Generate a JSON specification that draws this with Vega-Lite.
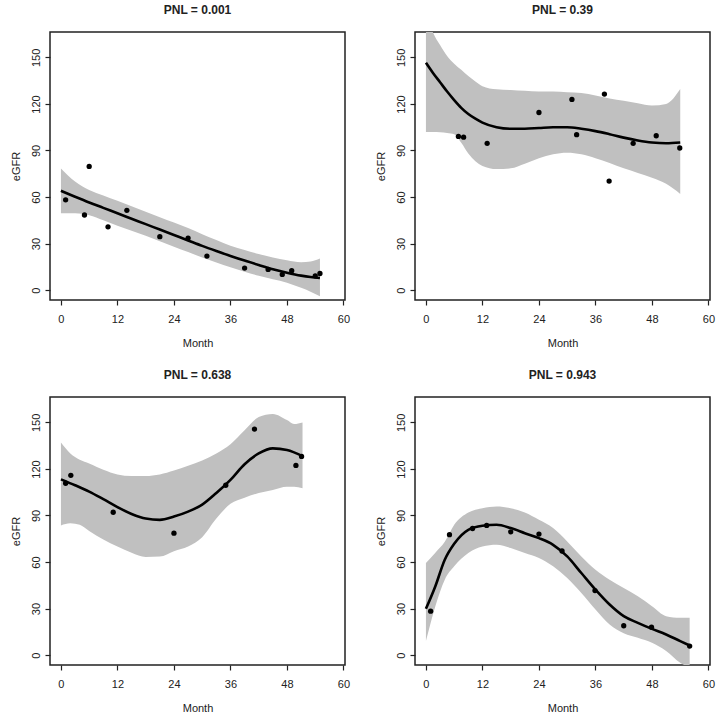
{
  "$schema": "https://vega.github.io/schema/vega-lite/v6.json",
  "padding": {"left": 9, "top": 3, "right": 2, "bottom": 2},
  "background": "white",
  "columns": 2,
  "spacing": {"row": 97, "column": 70},
  "bounds": "flush",
  "datasets": {
    "points": [
      {"panel": "A", "month": 1, "egfr": 58.2},
      {"panel": "A", "month": 5, "egfr": 48.4},
      {"panel": "A", "month": 6, "egfr": 79.7},
      {"panel": "A", "month": 10, "egfr": 40.8},
      {"panel": "A", "month": 14, "egfr": 51.4},
      {"panel": "A", "month": 21, "egfr": 34.4},
      {"panel": "A", "month": 27, "egfr": 33.5},
      {"panel": "A", "month": 31, "egfr": 21.9},
      {"panel": "A", "month": 39, "egfr": 14.2},
      {"panel": "A", "month": 44, "egfr": 13.3},
      {"panel": "A", "month": 47, "egfr": 10.1},
      {"panel": "A", "month": 49, "egfr": 12.5},
      {"panel": "A", "month": 54, "egfr": 9.2},
      {"panel": "A", "month": 55, "egfr": 10.7},
      {"panel": "B", "month": 6.9, "egfr": 99.1},
      {"panel": "B", "month": 8, "egfr": 98.6},
      {"panel": "B", "month": 13, "egfr": 94.6},
      {"panel": "B", "month": 24, "egfr": 114.5},
      {"panel": "B", "month": 31, "egfr": 122.9},
      {"panel": "B", "month": 32, "egfr": 100.2},
      {"panel": "B", "month": 37.9, "egfr": 126.4},
      {"panel": "B", "month": 38.9, "egfr": 70.3},
      {"panel": "B", "month": 44, "egfr": 94.6},
      {"panel": "B", "month": 48.9, "egfr": 99.5},
      {"panel": "B", "month": 53.9, "egfr": 91.6},
      {"panel": "C", "month": 1, "egfr": 110.8},
      {"panel": "C", "month": 2.1, "egfr": 115.9},
      {"panel": "C", "month": 11.1, "egfr": 92.1},
      {"panel": "C", "month": 24, "egfr": 78.6},
      {"panel": "C", "month": 35, "egfr": 109.5},
      {"panel": "C", "month": 41.1, "egfr": 145.7},
      {"panel": "C", "month": 49.9, "egfr": 122.3},
      {"panel": "C", "month": 51.1, "egfr": 128.1},
      {"panel": "D", "month": 1, "egfr": 28.3},
      {"panel": "D", "month": 5, "egfr": 77.6},
      {"panel": "D", "month": 9.9, "egfr": 81.6},
      {"panel": "D", "month": 12.9, "egfr": 83.6},
      {"panel": "D", "month": 18, "egfr": 79.5},
      {"panel": "D", "month": 24, "egfr": 78},
      {"panel": "D", "month": 28.9, "egfr": 67.1},
      {"panel": "D", "month": 35.9, "egfr": 41.6},
      {"panel": "D", "month": 42, "egfr": 18.9},
      {"panel": "D", "month": 47.9, "egfr": 18},
      {"panel": "D", "month": 56, "egfr": 5.8}
    ],
    "fit": [
      {"panel": "A", "month": 0, "fit": 64},
      {"panel": "A", "month": 3, "fit": 60.2},
      {"panel": "A", "month": 6, "fit": 56.5},
      {"panel": "A", "month": 9, "fit": 53},
      {"panel": "A", "month": 12, "fit": 49.5},
      {"panel": "A", "month": 15, "fit": 46},
      {"panel": "A", "month": 18, "fit": 42.5},
      {"panel": "A", "month": 21, "fit": 39},
      {"panel": "A", "month": 24, "fit": 35.5},
      {"panel": "A", "month": 27, "fit": 32},
      {"panel": "A", "month": 30, "fit": 28.5},
      {"panel": "A", "month": 33, "fit": 25.2},
      {"panel": "A", "month": 36, "fit": 22},
      {"panel": "A", "month": 39, "fit": 19},
      {"panel": "A", "month": 42, "fit": 16.2},
      {"panel": "A", "month": 45, "fit": 13.5},
      {"panel": "A", "month": 48, "fit": 11.2},
      {"panel": "A", "month": 51, "fit": 9.3},
      {"panel": "A", "month": 53, "fit": 8.4},
      {"panel": "A", "month": 55, "fit": 7.8},
      {"panel": "B", "month": 0, "fit": 146.6},
      {"panel": "B", "month": 1.5, "fit": 140},
      {"panel": "B", "month": 3, "fit": 134},
      {"panel": "B", "month": 4.5, "fit": 128},
      {"panel": "B", "month": 6, "fit": 122.5},
      {"panel": "B", "month": 7.5, "fit": 117.5},
      {"panel": "B", "month": 9, "fit": 113.5},
      {"panel": "B", "month": 10.5, "fit": 110.5},
      {"panel": "B", "month": 12, "fit": 108},
      {"panel": "B", "month": 15, "fit": 105},
      {"panel": "B", "month": 18, "fit": 104},
      {"panel": "B", "month": 21, "fit": 104},
      {"panel": "B", "month": 24, "fit": 104.5},
      {"panel": "B", "month": 27, "fit": 105},
      {"panel": "B", "month": 30, "fit": 105},
      {"panel": "B", "month": 33, "fit": 104},
      {"panel": "B", "month": 36, "fit": 102.5},
      {"panel": "B", "month": 39, "fit": 100.5},
      {"panel": "B", "month": 42, "fit": 98.3},
      {"panel": "B", "month": 45, "fit": 96.5},
      {"panel": "B", "month": 48, "fit": 95.2},
      {"panel": "B", "month": 51, "fit": 94.7},
      {"panel": "B", "month": 54, "fit": 95.2},
      {"panel": "C", "month": 0, "fit": 113.3},
      {"panel": "C", "month": 3, "fit": 109.5},
      {"panel": "C", "month": 6, "fit": 105.4},
      {"panel": "C", "month": 9, "fit": 100.5},
      {"panel": "C", "month": 12, "fit": 95.4},
      {"panel": "C", "month": 15, "fit": 91},
      {"panel": "C", "month": 18, "fit": 88},
      {"panel": "C", "month": 21, "fit": 87.2},
      {"panel": "C", "month": 24, "fit": 89.3},
      {"panel": "C", "month": 27, "fit": 92.5},
      {"panel": "C", "month": 30, "fit": 97},
      {"panel": "C", "month": 33, "fit": 104.5},
      {"panel": "C", "month": 36, "fit": 113},
      {"panel": "C", "month": 39, "fit": 123},
      {"panel": "C", "month": 42, "fit": 130},
      {"panel": "C", "month": 45, "fit": 133.3},
      {"panel": "C", "month": 48, "fit": 132.2},
      {"panel": "C", "month": 51.3, "fit": 128.3},
      {"panel": "D", "month": 0, "fit": 29.8},
      {"panel": "D", "month": 2, "fit": 44.4},
      {"panel": "D", "month": 4, "fit": 61.5},
      {"panel": "D", "month": 6, "fit": 71.8},
      {"panel": "D", "month": 9, "fit": 80.8},
      {"panel": "D", "month": 12, "fit": 83.4},
      {"panel": "D", "month": 15, "fit": 84},
      {"panel": "D", "month": 18, "fit": 81.9},
      {"panel": "D", "month": 21, "fit": 78.6},
      {"panel": "D", "month": 24, "fit": 75.4},
      {"panel": "D", "month": 27, "fit": 71.1},
      {"panel": "D", "month": 30, "fit": 63.6},
      {"panel": "D", "month": 33, "fit": 52.9},
      {"panel": "D", "month": 36, "fit": 42.2},
      {"panel": "D", "month": 39, "fit": 32.6},
      {"panel": "D", "month": 42, "fit": 25.1},
      {"panel": "D", "month": 45, "fit": 20.8},
      {"panel": "D", "month": 48, "fit": 16.9},
      {"panel": "D", "month": 51, "fit": 13.3},
      {"panel": "D", "month": 54, "fit": 9},
      {"panel": "D", "month": 56, "fit": 6.2}
    ],
    "band": [
      {"panel": "A", "month": 0, "lo": 49.5, "hi": 78.4},
      {"panel": "A", "month": 3, "lo": 49.5, "hi": 70},
      {"panel": "A", "month": 6, "lo": 48.3, "hi": 64.5},
      {"panel": "A", "month": 9, "lo": 45, "hi": 61},
      {"panel": "A", "month": 12, "lo": 41.5, "hi": 57.6},
      {"panel": "A", "month": 15, "lo": 38.2, "hi": 54},
      {"panel": "A", "month": 18, "lo": 35, "hi": 50.5},
      {"panel": "A", "month": 21, "lo": 31.5, "hi": 47},
      {"panel": "A", "month": 24, "lo": 28, "hi": 43.6},
      {"panel": "A", "month": 27, "lo": 24.5, "hi": 40},
      {"panel": "A", "month": 30, "lo": 21, "hi": 36},
      {"panel": "A", "month": 33, "lo": 17.8, "hi": 32.3},
      {"panel": "A", "month": 36, "lo": 14.7, "hi": 28.6},
      {"panel": "A", "month": 39, "lo": 11.8, "hi": 25.8},
      {"panel": "A", "month": 42, "lo": 9.3, "hi": 23.2},
      {"panel": "A", "month": 45, "lo": 7, "hi": 21},
      {"panel": "A", "month": 48, "lo": 4.8, "hi": 19.3},
      {"panel": "A", "month": 51, "lo": 1.5, "hi": 18},
      {"panel": "A", "month": 53, "lo": -1, "hi": 18.5},
      {"panel": "A", "month": 55, "lo": -4, "hi": 20.4},
      {"panel": "B", "month": 0, "lo": 102, "hi": 180},
      {"panel": "B", "month": 1.5, "lo": 102, "hi": 166},
      {"panel": "B", "month": 3, "lo": 101.8, "hi": 158},
      {"panel": "B", "month": 4.5, "lo": 101.3, "hi": 151},
      {"panel": "B", "month": 6, "lo": 100.5, "hi": 146},
      {"panel": "B", "month": 7.5, "lo": 95, "hi": 142},
      {"panel": "B", "month": 9, "lo": 88, "hi": 138},
      {"panel": "B", "month": 10.5, "lo": 83, "hi": 134.5},
      {"panel": "B", "month": 12, "lo": 80, "hi": 131.5},
      {"panel": "B", "month": 15, "lo": 78, "hi": 129.5},
      {"panel": "B", "month": 18, "lo": 78.5, "hi": 129},
      {"panel": "B", "month": 21, "lo": 81.5, "hi": 128.5},
      {"panel": "B", "month": 24, "lo": 85, "hi": 128},
      {"panel": "B", "month": 27, "lo": 87.5, "hi": 128},
      {"panel": "B", "month": 30, "lo": 88.5, "hi": 127.5},
      {"panel": "B", "month": 33, "lo": 87.5, "hi": 127},
      {"panel": "B", "month": 36, "lo": 85, "hi": 125.5},
      {"panel": "B", "month": 39, "lo": 82, "hi": 123.5},
      {"panel": "B", "month": 42, "lo": 78.5, "hi": 122},
      {"panel": "B", "month": 45, "lo": 75.5, "hi": 120.5},
      {"panel": "B", "month": 48, "lo": 72.5, "hi": 119},
      {"panel": "B", "month": 51, "lo": 68.5, "hi": 120},
      {"panel": "B", "month": 54, "lo": 62, "hi": 129.6},
      {"panel": "C", "month": 0, "lo": 83.6, "hi": 137},
      {"panel": "C", "month": 2, "lo": 85, "hi": 130},
      {"panel": "C", "month": 4, "lo": 84, "hi": 126},
      {"panel": "C", "month": 6, "lo": 80, "hi": 123.6},
      {"panel": "C", "month": 9, "lo": 74.5, "hi": 119.5},
      {"panel": "C", "month": 12, "lo": 70, "hi": 116.5},
      {"panel": "C", "month": 15, "lo": 66, "hi": 115.5},
      {"panel": "C", "month": 18, "lo": 63.3, "hi": 115.5},
      {"panel": "C", "month": 21, "lo": 63.5, "hi": 116.5},
      {"panel": "C", "month": 24, "lo": 67, "hi": 119},
      {"panel": "C", "month": 27, "lo": 70, "hi": 122},
      {"panel": "C", "month": 30, "lo": 76, "hi": 125.5},
      {"panel": "C", "month": 33, "lo": 88, "hi": 130},
      {"panel": "C", "month": 36, "lo": 97.5, "hi": 136},
      {"panel": "C", "month": 39, "lo": 101.5, "hi": 145},
      {"panel": "C", "month": 42, "lo": 104.5, "hi": 153.5},
      {"panel": "C", "month": 45, "lo": 106.5, "hi": 155.5},
      {"panel": "C", "month": 48, "lo": 108.5, "hi": 151.5},
      {"panel": "C", "month": 49.5, "lo": 108.5, "hi": 149},
      {"panel": "C", "month": 51.3, "lo": 107.5, "hi": 150},
      {"panel": "D", "month": 0, "lo": 9, "hi": 59.4},
      {"panel": "D", "month": 2, "lo": 31.5, "hi": 66},
      {"panel": "D", "month": 4, "lo": 48.6, "hi": 73},
      {"panel": "D", "month": 6, "lo": 57.2, "hi": 84},
      {"panel": "D", "month": 9, "lo": 65.8, "hi": 91.9},
      {"panel": "D", "month": 12, "lo": 70, "hi": 94.7},
      {"panel": "D", "month": 15, "lo": 71.1, "hi": 95.8},
      {"panel": "D", "month": 18, "lo": 69, "hi": 94.7},
      {"panel": "D", "month": 21, "lo": 65.8, "hi": 91.9},
      {"panel": "D", "month": 24, "lo": 62.6, "hi": 87.2},
      {"panel": "D", "month": 27, "lo": 57.2, "hi": 81.9},
      {"panel": "D", "month": 30, "lo": 49.7, "hi": 73.3},
      {"panel": "D", "month": 33, "lo": 40.1, "hi": 63.6},
      {"panel": "D", "month": 36, "lo": 29.4, "hi": 55},
      {"panel": "D", "month": 39, "lo": 19.7, "hi": 48.6},
      {"panel": "D", "month": 42, "lo": 14, "hi": 43.3},
      {"panel": "D", "month": 45, "lo": 11.1, "hi": 37.9},
      {"panel": "D", "month": 48, "lo": 7.9, "hi": 31.5},
      {"panel": "D", "month": 51, "lo": 2.6, "hi": 25.1},
      {"panel": "D", "month": 54, "lo": -5, "hi": 24},
      {"panel": "D", "month": 56, "lo": -8, "hi": 24}
    ]
  },
  "concat": [
    {
      "title": "PNL = 0.001",
      "width": 295, "height": 268,
      "layer": [
        {"data": {"name": "band"}, "transform": [{"filter": "datum.panel === 'A'"}],
         "mark": {"type": "area", "color": "#c0c0c0", "clip": true, "interpolate": "monotone"},
         "encoding": {"x": {"field": "month", "type": "quantitative", "title": "Month", "scale": {"domain": [-2.32, 60.32], "nice": false, "zero": false},
                            "axis": {"values": [0, 12, 24, 36, 48, 60], "labelPadding": 8, "titlePadding": 13, "labelFlush": false}},
                      "y": {"field": "hi", "type": "quantitative", "title": "eGFR", "scale": {"domain": [-6.4, 166.4], "nice": false, "zero": false},
                            "axis": {"values": [0, 30, 60, 90, 120, 150], "labelAngle": -90, "labelAlign": "center", "labelBaseline": "bottom", "labelPadding": 4, "titlePadding": 9, "labelFlush": false}},
                      "y2": {"field": "lo"}}},
        {"data": {"name": "fit"}, "transform": [{"filter": "datum.panel === 'A'"}],
         "mark": {"type": "line", "color": "black", "strokeWidth": 2.6, "interpolate": "monotone", "clip": true},
         "encoding": {"x": {"field": "month", "type": "quantitative"}, "y": {"field": "fit", "type": "quantitative"}}},
        {"data": {"name": "points"}, "transform": [{"filter": "datum.panel === 'A'"}],
         "mark": {"type": "point", "filled": true, "color": "black", "size": 28, "opacity": 1},
         "encoding": {"x": {"field": "month", "type": "quantitative"}, "y": {"field": "egfr", "type": "quantitative"}}}
      ]
    },
    {
      "title": "PNL = 0.39",
      "width": 295, "height": 268,
      "layer": [
        {"data": {"name": "band"}, "transform": [{"filter": "datum.panel === 'B'"}],
         "mark": {"type": "area", "color": "#c0c0c0", "clip": true, "interpolate": "monotone"},
         "encoding": {"x": {"field": "month", "type": "quantitative", "title": "Month", "scale": {"domain": [-2.32, 60.32], "nice": false, "zero": false},
                            "axis": {"values": [0, 12, 24, 36, 48, 60], "labelPadding": 8, "titlePadding": 13, "labelFlush": false}},
                      "y": {"field": "hi", "type": "quantitative", "title": "eGFR", "scale": {"domain": [-6.4, 166.4], "nice": false, "zero": false},
                            "axis": {"values": [0, 30, 60, 90, 120, 150], "labelAngle": -90, "labelAlign": "center", "labelBaseline": "bottom", "labelPadding": 4, "titlePadding": 9, "labelFlush": false}},
                      "y2": {"field": "lo"}}},
        {"data": {"name": "fit"}, "transform": [{"filter": "datum.panel === 'B'"}],
         "mark": {"type": "line", "color": "black", "strokeWidth": 2.6, "interpolate": "monotone", "clip": true},
         "encoding": {"x": {"field": "month", "type": "quantitative"}, "y": {"field": "fit", "type": "quantitative"}}},
        {"data": {"name": "points"}, "transform": [{"filter": "datum.panel === 'B'"}],
         "mark": {"type": "point", "filled": true, "color": "black", "size": 28, "opacity": 1},
         "encoding": {"x": {"field": "month", "type": "quantitative"}, "y": {"field": "egfr", "type": "quantitative"}}}
      ]
    },
    {
      "title": "PNL = 0.638",
      "width": 295, "height": 268,
      "layer": [
        {"data": {"name": "band"}, "transform": [{"filter": "datum.panel === 'C'"}],
         "mark": {"type": "area", "color": "#c0c0c0", "clip": true, "interpolate": "monotone"},
         "encoding": {"x": {"field": "month", "type": "quantitative", "title": "Month", "scale": {"domain": [-2.32, 60.32], "nice": false, "zero": false},
                            "axis": {"values": [0, 12, 24, 36, 48, 60], "labelPadding": 8, "titlePadding": 13, "labelFlush": false}},
                      "y": {"field": "hi", "type": "quantitative", "title": "eGFR", "scale": {"domain": [-6.4, 166.4], "nice": false, "zero": false},
                            "axis": {"values": [0, 30, 60, 90, 120, 150], "labelAngle": -90, "labelAlign": "center", "labelBaseline": "bottom", "labelPadding": 4, "titlePadding": 9, "labelFlush": false}},
                      "y2": {"field": "lo"}}},
        {"data": {"name": "fit"}, "transform": [{"filter": "datum.panel === 'C'"}],
         "mark": {"type": "line", "color": "black", "strokeWidth": 2.6, "interpolate": "monotone", "clip": true},
         "encoding": {"x": {"field": "month", "type": "quantitative"}, "y": {"field": "fit", "type": "quantitative"}}},
        {"data": {"name": "points"}, "transform": [{"filter": "datum.panel === 'C'"}],
         "mark": {"type": "point", "filled": true, "color": "black", "size": 28, "opacity": 1},
         "encoding": {"x": {"field": "month", "type": "quantitative"}, "y": {"field": "egfr", "type": "quantitative"}}}
      ]
    },
    {
      "title": "PNL = 0.943",
      "width": 295, "height": 268,
      "layer": [
        {"data": {"name": "band"}, "transform": [{"filter": "datum.panel === 'D'"}],
         "mark": {"type": "area", "color": "#c0c0c0", "clip": true, "interpolate": "monotone"},
         "encoding": {"x": {"field": "month", "type": "quantitative", "title": "Month", "scale": {"domain": [-2.32, 60.32], "nice": false, "zero": false},
                            "axis": {"values": [0, 12, 24, 36, 48, 60], "labelPadding": 8, "titlePadding": 13, "labelFlush": false}},
                      "y": {"field": "hi", "type": "quantitative", "title": "eGFR", "scale": {"domain": [-6.4, 166.4], "nice": false, "zero": false},
                            "axis": {"values": [0, 30, 60, 90, 120, 150], "labelAngle": -90, "labelAlign": "center", "labelBaseline": "bottom", "labelPadding": 4, "titlePadding": 9, "labelFlush": false}},
                      "y2": {"field": "lo"}}},
        {"data": {"name": "fit"}, "transform": [{"filter": "datum.panel === 'D'"}],
         "mark": {"type": "line", "color": "black", "strokeWidth": 2.6, "interpolate": "monotone", "clip": true},
         "encoding": {"x": {"field": "month", "type": "quantitative"}, "y": {"field": "fit", "type": "quantitative"}}},
        {"data": {"name": "points"}, "transform": [{"filter": "datum.panel === 'D'"}],
         "mark": {"type": "point", "filled": true, "color": "black", "size": 28, "opacity": 1},
         "encoding": {"x": {"field": "month", "type": "quantitative"}, "y": {"field": "egfr", "type": "quantitative"}}}
      ]
    }
  ],
  "config": {
    "font": "Liberation Sans",
    "view": {"stroke": "#222222", "strokeWidth": 1.5},
    "axis": {"grid": false, "domain": false, "tickColor": "#222222", "tickWidth": 1.2, "tickSize": 5, "labelFontSize": 11, "labelColor": "#222222", "titleFontSize": 11, "titleFontWeight": "normal", "titleColor": "#222222"},
    "title": {"fontSize": 12, "fontWeight": "bold", "offset": 15, "color": "#222222"}
  }
}
